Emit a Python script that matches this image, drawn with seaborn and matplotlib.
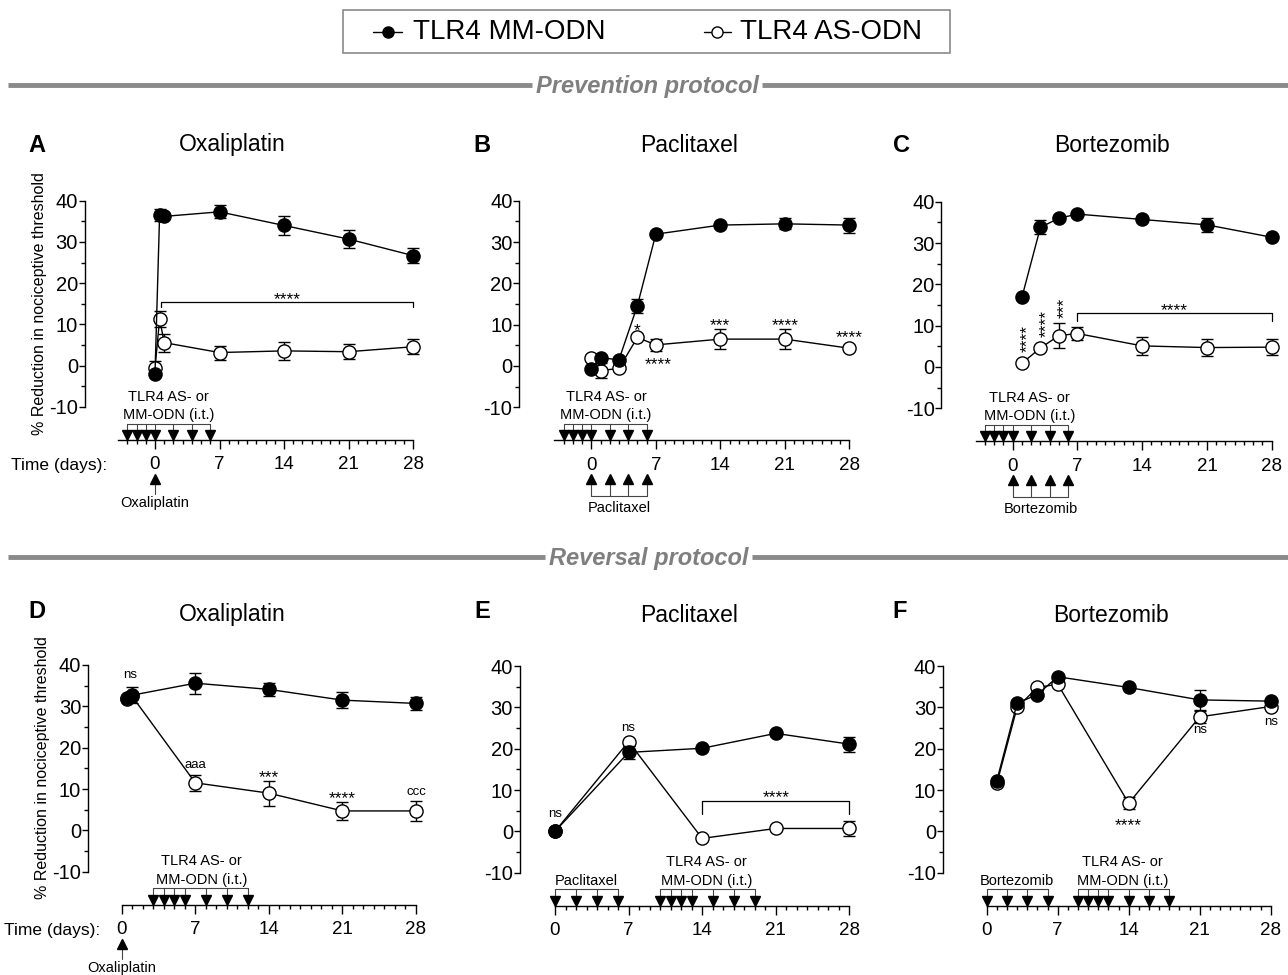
import matplotlib
matplotlib.use("Agg")
import matplotlib.pyplot as plt
import numpy as np
import pandas as pd
import seaborn as sns
from matplotlib.lines import Line2D
from matplotlib.patches import Rectangle

sns.set_theme(style="ticks")
plt.rcParams['font.family'] = ['Liberation Sans', 'DejaVu Sans']
plt.rcParams.update({'axes.edgecolor': 'black', 'xtick.color': 'black', 'ytick.color': 'black',
                     'text.color': 'black', 'axes.labelcolor': 'black', 'axes.linewidth': 1.0,
                     'axes.unicode_minus': False})

W, H = 1288, 975

# ---------------- data ----------------
series_labels = ["TLR4 MM-ODN", "TLR4 AS-ODN"]
titles = ["Oxaliplatin", "Paclitaxel", "Bortezomib", "Oxaliplatin", "Paclitaxel", "Bortezomib"]
letters = ["A", "B", "C", "D", "E", "F"]
xtick_vals = [0, 7, 14, 21, 28]
ytick_vals = [-10, 0, 10, 20, 30, 40]

# A  prevention / oxaliplatin
A_days = [0, 0.5, 1, 7, 14, 21, 28]
A_mm = [-2.0, 36.6, 36.2, 37.3, 34.0, 30.7, 26.7]
A_mm_err = [0.0, 1.4, 0.0, 1.6, 2.4, 2.1, 1.8]
A_as = [-0.6, 11.3, 5.6, 3.2, 3.6, 3.4, 4.6]
A_as_err = [1.8, 1.9, 2.2, 1.7, 2.1, 1.8, 1.8]
A_odn = [-3, -2, -1, 0, 2, 4, 6]
A_drug = [0]

# B  prevention / paclitaxel
B_days = [0, 1, 3, 5, 7, 14, 21, 28]
B_mm = [-0.8, 2.0, 1.5, 14.6, 31.9, 34.1, 34.4, 34.1]
B_mm_err = [0, 0, 0, 1.7, 0, 0, 1.3, 1.8]
B_as = [2.0, -1.1, -0.6, 6.9, 5.1, 6.5, 6.5, 4.3]
B_as_err = [0, 1.9, 0, 0, 1.5, 2.4, 2.5, 0]
B_odn = [-3, -2, -1, 0, 2, 4, 6]
B_drug = [0, 2, 4, 6]

# C  prevention / bortezomib
C_days = [1, 3, 5, 7, 14, 21, 28]
C_mm = [16.9, 33.8, 36.0, 37.0, 35.7, 34.4, 31.4]
C_mm_err = [0, 1.7, 0, 0, 0, 1.7, 0]
C_as = [0.9, 4.6, 7.6, 8.1, 5.1, 4.7, 4.8]
C_as_err = [0, 0, 3.0, 1.5, 2.1, 2.1, 1.9]
C_odn = [-3, -2, -1, 0, 2, 4, 6]
C_drug = [0, 2, 4, 6]

# D  reversal / oxaliplatin
D_days = [0.5, 1, 7, 14, 21, 28]
D_mm = [31.7, 32.7, 35.6, 34.1, 31.5, 30.7]
D_mm_err = [0, 1.9, 2.5, 1.5, 2.0, 1.5]
D_as = [32.1, 32.4, 11.5, 9.0, 4.7, 4.7]
D_as_err = [0, 0, 2.0, 3.0, 2.1, 2.5]
D_odn = [3, 4, 5, 6, 8, 10, 12]
D_drug = [0]

# E  reversal / paclitaxel
E_days = [0, 7, 14, 21, 28]
E_mm = [0.0, 19.1, 20.1, 23.7, 21.1]
E_mm_err = [0, 1.6, 0, 0, 1.8]
E_as = [0.0, 21.7, -1.7, 0.7, 0.7]
E_as_err = [0, 0, 0, 0, 1.8]
E_drug = [0, 2, 4, 6]
E_odn = [10, 11, 12, 13, 15, 17, 19]

# F  reversal / bortezomib
F_days = [1, 3, 5, 7, 14, 21, 28]
F_mm = [12.3, 31.0, 33.1, 37.4, 34.8, 31.8, 31.5]
F_mm_err = [0, 0, 0, 0, 0, 2.4, 0]
F_as = [11.6, 30.0, 34.8, 35.6, 6.8, 27.7, 30.2]
F_as_err = [0, 0, 0, 0, 1.5, 1.5, 0]
F_drug = [0, 2, 4, 6]
F_odn = [9, 10, 11, 12, 14, 16, 18]

# ---------------- figure ----------------
fig = plt.figure(figsize=(W / 100, H / 100), dpi=100, facecolor='white')

TIME_Y = -18.0
TRI_Y = -16.8
BR_Y = -14.0
LINE_C = '#444444'


def ftext(xp, yp, s, **kw):
    return fig.text(xp / W, 1 - yp / H, s, **kw)


def make_ax(px0, px28, py40, pym10, xlim, ylim=(-20, 44)):
    sx = (px28 - px0) / 28.0
    sy = (pym10 - py40) / 50.0
    left = px0 + xlim[0] * sx
    right = px0 + xlim[1] * sx
    top = py40 - (ylim[1] - 40) * sy
    bottom = py40 + (40 - ylim[0]) * sy
    ax = fig.add_axes([left / W, 1 - bottom / H, (right - left) / W, (bottom - top) / H])
    ax.set_xlim(xlim)
    ax.set_ylim(ylim)
    ax.sy = sy
    ax.sx = sx
    return ax


def style_axes(ax, yaxis_x, xstart, minor_start):
    ax.patch.set_visible(False)
    for s in ['top', 'right']:
        ax.spines[s].set_visible(False)
    ax.spines['left'].set_position(('data', yaxis_x))
    ax.spines['left'].set_bounds(-10, 40)
    ax.spines['bottom'].set_position(('data', TIME_Y))
    ax.spines['bottom'].set_bounds(xstart, 28)
    ax.set_yticks(ytick_vals)
    ax.set_yticks([-5, 5, 15, 25, 35], minor=True)
    ax.set_xticks(xtick_vals)
    ax.set_xticks([d for d in range(minor_start, 28) if d % 7 != 0], minor=True)
    ax.tick_params(axis='y', which='major', direction='out', length=4.2, width=1, labelsize=14.5, pad=0.8)
    ax.tick_params(axis='y', which='minor', direction='out', length=2.6, width=1)
    ax.tick_params(axis='x', which='major', direction='out', length=6.3, width=1, labelsize=13.5, pad=5.5)
    ax.tick_params(axis='x', which='minor', direction='out', length=3.2, width=1)
    ax.set_xlabel('')
    ax.set_ylabel('')


def draw_series(ax, days, mm, mm_err, as_, as_err):
    d = np.array(days, float)
    for vals, errs, filled, z in [(as_, as_err, False, 3), (mm, mm_err, True, 4)]:
        v = np.array(vals, float)
        e = np.array(errs, float)
        m = e > 0
        if m.any():
            ax.errorbar(d[m], v[m], yerr=e[m], fmt='none', ecolor='black', elinewidth=1.0,
                        capsize=4.5, capthick=1.0, zorder=z - 0.5)
        df = pd.DataFrame({'Day': d, 'Value': v})
        sns.lineplot(data=df, x='Day', y='Value', ax=ax, estimator=None, sort=False,
                     color='black', linewidth=1.0, marker='o', markersize=9.5,
                     markerfacecolor='black' if filled else 'white',
                     markeredgecolor='black', markeredgewidth=1.0, zorder=z)


def marks_above(ax, days, lines, text_x):
    ax.plot([days[0], days[-1]], [BR_Y, BR_Y], color=LINE_C, lw=0.8, clip_on=False, zorder=2)
    for dd in days:
        ax.plot([dd, dd], [BR_Y, TRI_Y], color=LINE_C, lw=0.8, clip_on=False, zorder=2)
    ax.plot(days, [TRI_Y] * len(days), ls='none', marker='v', ms=7.3, color='black',
            clip_on=False, zorder=5)
    if len(lines) == 2:
        ax.text(text_x, -7.5, lines[0], ha='center', va='center', fontsize=10.5, clip_on=False)
        ax.text(text_x, -11.9, lines[1], ha='center', va='center', fontsize=10.5, clip_on=False)
    else:
        ax.text(text_x, -11.9, lines[0], ha='center', va='center', fontsize=10.5, clip_on=False)


def marks_below(ax, days, label):
    ty = -27.4
    if len(days) > 1:
        by = -31.5
        ax.plot([days[0], days[-1]], [by, by], color=LINE_C, lw=0.8, clip_on=False)
        for dd in days:
            ax.plot([dd, dd], [ty, by], color=LINE_C, lw=0.8, clip_on=False)
        ax.text(np.mean([days[0], days[-1]]), -34.3, label, ha='center', va='center',
                fontsize=10.5, clip_on=False)
    else:
        ax.plot([days[0], days[0]], [ty, -31.0], color=LINE_C, lw=0.8, clip_on=False)
        ax.text(days[0], -33.3, label, ha='center', va='center', fontsize=10.5, clip_on=False)
    ax.plot(days, [ty] * len(days), ls='none', marker='^', ms=7.3, color='black',
            clip_on=False, zorder=5)


def stars(ax, x, yc, s, fs=12.5, rot=0):
    px = fs * 100 / 72.0
    if rot == 0:
        ax.text(x, yc - 0.575 * px / ax.sy, s, ha='center', va='baseline', fontsize=fs, clip_on=False)
    else:
        ax.text(x + 0.315 * px / ax.sx, yc, s, ha='center', va='center', rotation=90,
                fontsize=fs, clip_on=False)


def note(ax, x, yc, s, fs=9.5):
    ax.text(x, yc, s, ha='center', va='center', fontsize=fs, clip_on=False)


def bracket(ax, x0, x1, y, drop):
    ax.plot([x0, x0, x1, x1], [y - drop, y, y, y - drop], color='black', lw=0.9, clip_on=False)


odn_lines = ["TLR4 AS- or", "MM-ODN (i.t.)"]

# ---- Panel A
axA = make_ax(155, 413, 200.7, 407, (-9, 29.5))
draw_series(axA, A_days, A_mm, A_mm_err, A_as, A_as_err)
style_axes(axA, -7.6, -4, -3)
marks_above(axA, A_odn, odn_lines, 1.5)
marks_below(axA, A_drug, "Oxaliplatin")
bracket(axA, 0.65, 28, 15.5, 1.2)
stars(axA, 14.3, 17.3, "****")

# ---- Panel B
axB = make_ax(591.3, 849.3, 200.7, 407.3, (-9, 29.5))
draw_series(axB, B_days, B_mm, B_mm_err, B_as, B_as_err)
style_axes(axB, -7.8, -4, -3)
marks_above(axB, B_odn, odn_lines, 1.6)
marks_below(axB, B_drug, "Paclitaxel")
stars(axB, 5, 9.9, "*")
stars(axB, 7.3, 1.6, "****")
stars(axB, 14, 11.1, "***")
stars(axB, 21, 11.1, "****")
stars(axB, 28, 8.3, "****")

# ---- Panel C
axC = make_ax(1012.7, 1271.7, 201.7, 408.3, (-9, 29.5))
draw_series(axC, C_days, C_mm, C_mm_err, C_as, C_as_err)
style_axes(axC, -7.7, -4, -3)
marks_above(axC, C_odn, odn_lines, 1.8)
marks_below(axC, C_drug, "Bortezomib")
stars(axC, 1, 6.8, "****", rot=90)
stars(axC, 3, 10.6, "****", rot=90)
stars(axC, 5, 14.4, "***", rot=90)
bracket(axC, 7, 28, 13.1, 1.9)
stars(axC, 17.5, 15.0, "****")

# ---- Panel D
axD = make_ax(121.7, 416, 665, 871.7, (-4.5, 29.5))
draw_series(axD, D_days, D_mm, D_mm_err, D_as, D_as_err)
style_axes(axD, -3.2, 0, 1)
marks_above(axD, D_odn, odn_lines, 7.6)
marks_below(axD, D_drug, "Oxaliplatin")
note(axD, 0.85, 37.7, "ns")
note(axD, 7, 15.8, "aaa")
stars(axD, 14, 14.0, "***")
stars(axD, 21, 9.1, "****")
note(axD, 28, 9.4, "ccc")

# ---- Panel E
axE = make_ax(555, 849.3, 666, 872.7, (-4.5, 29.5))
draw_series(axE, E_days, E_mm, E_mm_err, E_as, E_as_err)
style_axes(axE, -3.33, 0, 1)
marks_above(axE, E_drug, ["Paclitaxel"], 3)
marks_above(axE, E_odn, odn_lines, 14.4)
note(axE, 0, 4.2, "ns")
note(axE, 7, 24.9, "ns")
bracket(axE, 14, 28, 7.4, 3.2)
stars(axE, 21, 9.6, "****")

# ---- Panel F
axF = make_ax(986.7, 1270.7, 666, 872.7, (-5.5, 29.5))
draw_series(axF, F_days, F_mm, F_mm_err, F_as, F_as_err)
style_axes(axF, -4.3, 0, 1)
marks_above(axF, F_drug, ["Bortezomib"], 3)
marks_above(axF, F_odn, odn_lines, 13.4)
stars(axF, 14, 2.7, "****")
note(axF, 21, 24.5, "ns")
note(axF, 28, 26.5, "ns")

# ---- titles, letters
title_pos = [(232, 145), (689, 145), (1112, 145), (232, 615), (689, 615), (1111, 615)]
letter_pos = [(37, 145), (482, 145), (902, 145), (37, 612), (482, 612), (900, 612)]
for t, (x, y) in zip(titles, title_pos):
    ftext(x, y, t, ha='center', va='center', fontsize=16.5)
for l, (x, y) in zip(letters, letter_pos):
    ftext(x, y, l, ha='center', va='center', fontsize=17, fontweight='bold')

# y labels
ylab = "% Reduction in nociceptive threshold"
ftext(40, 304, ylab, rotation=90, ha='center', va='center', fontsize=11.5)
ftext(43, 768, ylab, rotation=90, ha='center', va='center', fontsize=11.5)
# time labels
ftext(107, 465, "Time (days):", ha='right', va='center', fontsize=12.5)
ftext(100, 930, "Time (days):", ha='right', va='center', fontsize=12.5)

# ---- protocol separators
SEP_C = '#8a8a8a'
for (y, xl, xr, txt, xc) in [(85, 532, 762, "Prevention protocol", 647),
                              (557, 545, 752, "Reversal protocol", 649)]:
    fig.add_artist(Line2D([8 / W, xl / W], [1 - y / H] * 2, color=SEP_C, lw=3.5,
                          transform=fig.transFigure, solid_capstyle='butt'))
    fig.add_artist(Line2D([xr / W, 1.0], [1 - y / H] * 2, color=SEP_C, lw=3.5,
                          transform=fig.transFigure, solid_capstyle='butt'))
    ftext(xc, y + 1, txt, ha='center', va='center', fontsize=17, fontweight='bold',
          fontstyle='italic', color='#7f7f7f')

# ---- legend box
fig.add_artist(Rectangle((343 / W, 1 - 53 / H), (950 - 343) / W, (53 - 10) / H,
                         transform=fig.transFigure, fill=False, edgecolor='#8a8a8a', lw=1.2))
ly = 1 - 32 / H
for (x0, x1, xm, fc, lab, xt) in [(373, 402, 388, 'black', series_labels[0], 413),
                                  (704, 731, 717, 'white', series_labels[1], 740)]:
    fig.add_artist(Line2D([x0 / W, x1 / W], [ly, ly], color='black', lw=1.0,
                          transform=fig.transFigure))
    fig.add_artist(Line2D([xm / W], [ly], marker='o', ms=8, markerfacecolor=fc,
                          markeredgecolor='black', markeredgewidth=1.0, ls='none',
                          transform=fig.transFigure))
    ftext(xt, 32, lab, ha='left', va='center', fontsize=20)

fig.savefig("out.png", dpi=100, facecolor='white')
